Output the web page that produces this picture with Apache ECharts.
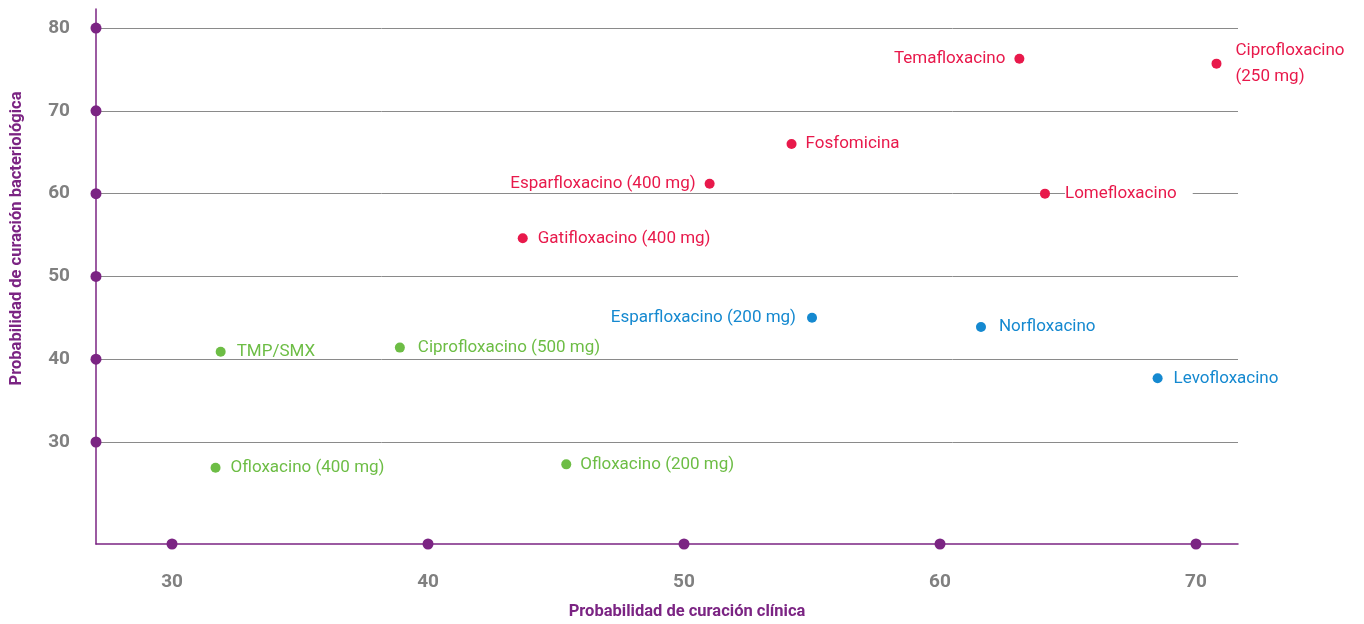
<!DOCTYPE html>
<html>
<head>
<meta charset="utf-8">
<script src="https://cdn.jsdelivr.net/npm/echarts@6/dist/echarts.min.js"></script>
<style>html,body{margin:0;padding:0;background:#fff}#c{width:1364px;height:624px}</style>
</head>
<body>
<div id="c"></div>
<script>
// ---- data ----
const drugNames = ["Temafloxacino","Ciprofloxacino\n(250 mg)","Fosfomicina","Esparfloxacino (400 mg)","Lomefloxacino","Gatifloxacino (400 mg)",
  "Esparfloxacino (200 mg)","Norfloxacino","Levofloxacino",
  "TMP/SMX","Ciprofloxacino (500 mg)","Ofloxacino (400 mg)","Ofloxacino (200 mg)"];
const clinicalCure = [63.1, 70.8, 54.2, 51.0, 64.1, 43.7, 55.0, 61.6, 68.5, 31.9, 38.9, 31.7, 45.4];
const bacteriologicalCure = [76.3, 75.7, 66.0, 61.2, 60.0, 54.6, 45.0, 43.9, 37.7, 40.9, 41.4, 26.9, 27.3];
const groups = ["red","red","red","red","red","red","blue","blue","blue","green","green","green","green"];
const xTicks = [30, 40, 50, 60, 70];
const yTicks = [30, 40, 50, 60, 70, 80];
const xRange = [27.03, 71.64];
const yRange = [17.68, 82.3];
const xTitle = "Probabilidad de curación clínica";
const yTitle = "Probabilidad de curación bacteriológica";

// ---- styles ----
const colors = {red: "#e8194b", blue: "#1589d0", green: "#6dbd45"};
const purple = "#7b2483";
const LFONT = "Roboto, sans-serif";
const leftLabels = new Set(["Temafloxacino","Esparfloxacino (400 mg)","Esparfloxacino (200 mg)"]);
const labelDist = {"Temafloxacino":9,"Ciprofloxacino\n(250 mg)":14,"Fosfomicina":9,"Esparfloxacino (400 mg)":9,"Lomefloxacino":15,
  "Gatifloxacino (400 mg)":10,"Esparfloxacino (200 mg)":11,"Norfloxacino":13,"Levofloxacino":11,"TMP/SMX":11,
  "Ciprofloxacino (500 mg)":13,"Ofloxacino (400 mg)":10,"Ofloxacino (200 mg)":9};

function seriesFor(g) {
  const data = [];
  drugNames.forEach((n, i) => {
    if (groups[i] !== g) return;
    const lbl = {
      show: true, formatter: n, position: leftLabels.has(n) ? 'left' : 'right',
      distance: labelDist[n], color: colors[g], fontSize: 17, fontFamily: LFONT, lineHeight: 26
    };
    if (n === "Lomefloxacino") { lbl.backgroundColor = '#fff'; lbl.padding = [0, 16, 0, 0]; }
    data.push({name: n, value: [clinicalCure[i], bacteriologicalCure[i]], label: lbl});
  });
  return {type: 'scatter', data, symbolSize: 10, itemStyle: {color: colors[g], opacity: 1}, z: 5};
}

const chart = echarts.init(document.getElementById('c'), null, {renderer: 'canvas'});
chart.setOption({
  animation: false,
  grid: {left: 96, right: 126, top: 9, bottom: 80, outerBoundsMode: 'none', containLabel: false},
  xAxis: {
    type: 'value', min: xRange[0], max: xRange[1],
    axisLine: {show: true, onZero: false, lineStyle: {color: purple, width: 1.5}},
    axisTick: {show: false}, splitLine: {show: false},
    axisLabel: {customValues: xTicks, color: '#808080', fontWeight: 'bold', fontSize: 19, fontFamily: LFONT, margin: 29},
    name: xTitle, nameLocation: 'middle', nameGap: 59,
    nameTextStyle: {color: purple, fontWeight: 'bold', fontSize: 16.5, fontFamily: LFONT, padding: [0, 0, 0, 40]}
  },
  yAxis: {
    type: 'value', min: yRange[0], max: yRange[1],
    axisLine: {show: true, onZero: false, lineStyle: {color: purple, width: 1.5}},
    axisTick: {show: false}, splitLine: {show: false},
    axisLabel: {customValues: yTicks, color: '#808080', fontWeight: 'bold', fontSize: 19, fontFamily: LFONT, margin: 26},
    name: yTitle, nameLocation: 'middle', nameGap: 71,
    nameTextStyle: {color: purple, fontWeight: 'bold', fontSize: 16.5, fontFamily: LFONT, padding: [0, 0, 0, 76]}
  },
  series: [
    {
      type: 'scatter', data: [], z: 1, silent: true,
      markLine: {
        silent: true, symbol: 'none', label: {show: false}, animation: false,
        lineStyle: {color: '#8a8a8a', width: 1, type: 'solid'},
        data: yTicks.map(v => ({yAxis: v}))
      }
    },
    {
      type: 'scatter', symbolSize: 11, itemStyle: {color: purple, opacity: 1}, z: 10, clip: false, silent: true,
      data: xTicks.map(v => [v, yRange[0]]).concat(yTicks.map(v => [xRange[0], v]))
    },
    seriesFor('red'), seriesFor('blue'), seriesFor('green')
  ]
});
</script>
</body>
</html>
